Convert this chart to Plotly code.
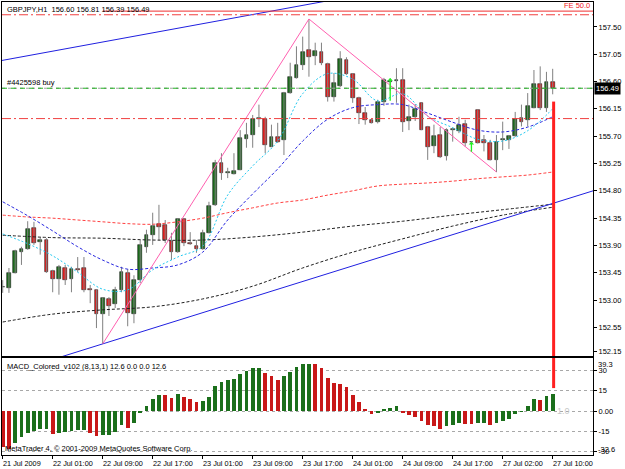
import plotly.graph_objects as go

FONT = "Liberation Sans, Arial, sans-serif"

# ---------------- data ----------------
opens = [153.21, 153.20, 153.45, 153.80, 153.84, 154.19, 153.95, 153.99, 153.48, 153.35,
         153.53, 153.35, 153.51, 153.53, 153.18, 153.16, 152.77, 153.02, 152.94, 153.16,
         153.45, 152.77, 153.33, 153.88, 154.07, 154.25, 154.24, 153.97, 153.80, 154.34,
         153.94, 153.90, 153.84, 154.11, 154.56, 155.26, 155.10, 155.08, 155.15, 155.65,
         155.72, 155.99, 155.98, 155.53, 155.68, 155.64, 156.41, 156.66, 156.87, 157.12,
         157.02, 157.08, 156.89, 156.34, 156.53, 156.96, 156.72, 156.33, 156.09, 155.97,
         155.93, 156.26, 156.60, 156.61, 156.62, 155.95, 156.02, 156.24, 155.85, 155.54,
         155.72, 155.37, 155.80, 155.79, 155.90, 155.60, 156.13, 155.63, 155.58, 155.31,
         155.64, 155.63, 155.70, 156.00, 155.96, 156.17, 156.56, 156.16, 156.60]
highs = [153.33, 153.53, 153.83, 153.88, 154.30, 154.29, 154.04, 154.02, 153.50, 153.58,
         153.58, 153.55, 153.71, 153.71, 153.25, 153.18, 153.05, 153.05, 153.22, 153.55,
         153.51, 153.41, 153.99, 154.16, 154.44, 154.57, 154.32, 154.11, 154.35, 154.35,
         154.12, 153.99, 154.16, 154.62, 155.31, 155.42, 155.18, 155.42, 155.80, 155.92,
         156.05, 156.22, 156.02, 155.89, 155.92, 156.43, 156.91, 157.18, 157.34, 157.63,
         157.24, 157.24, 156.91, 156.74, 157.10, 157.00, 156.74, 156.35, 156.18, 155.98,
         156.30, 156.66, 156.64, 156.82, 156.82, 156.22, 156.23, 156.25, 155.87, 155.89,
         155.85, 155.83, 155.84, 156.02, 155.97, 155.62, 156.14, 155.72, 155.64, 155.72,
         155.94, 155.72, 156.10, 156.22, 156.41, 156.79, 156.85, 156.76, 156.81]
lows = [153.12, 153.12, 153.44, 153.58, 153.83, 153.91, 153.75, 153.45, 153.13, 153.09,
        153.25, 153.13, 153.46, 153.13, 152.95, 152.54, 152.28, 152.74, 152.87, 153.13,
        152.57, 152.62, 153.28, 153.78, 153.91, 153.99, 153.94, 153.66, 153.78, 153.89,
        153.91, 153.78, 153.83, 154.10, 154.55, 154.98, 155.01, 155.07, 155.14, 155.51,
        155.51, 155.85, 155.42, 155.52, 155.59, 155.39, 156.40, 156.65, 156.79, 156.68,
        156.87, 156.87, 156.27, 156.27, 156.51, 156.71, 156.25, 155.90, 155.89, 155.91,
        155.91, 156.20, 156.45, 156.25, 155.77, 155.80, 155.95, 155.80, 155.31, 155.42,
        155.34, 155.30, 155.61, 155.75, 155.53, 155.50, 155.58, 155.45, 155.30, 155.11,
        155.47, 155.49, 155.69, 155.86, 155.86, 156.16, 156.13, 156.10, 156.39]
closes = [153.22, 153.45, 153.81, 153.84, 154.17, 153.94, 153.99, 153.46, 153.35, 153.55,
          153.33, 153.51, 153.50, 153.16, 153.17, 152.77, 153.04, 152.90, 153.16, 153.46,
          152.79, 153.33, 153.91, 154.07, 154.22, 154.20, 153.99, 153.80, 154.34, 153.94,
          153.93, 153.84, 154.11, 154.55, 155.26, 155.10, 155.11, 155.13, 155.67, 155.72,
          155.98, 156.00, 155.56, 155.68, 155.61, 156.41, 156.68, 156.87, 157.09, 157.01,
          157.11, 156.90, 156.35, 156.57, 156.97, 156.72, 156.33, 156.09, 155.97, 155.92,
          156.26, 156.63, 156.61, 156.62, 155.94, 156.02, 156.14, 155.81, 155.53, 155.70,
          155.36, 155.80, 155.81, 155.89, 155.59, 155.61, 155.59, 155.58, 155.31, 155.61,
          155.65, 155.70, 155.98, 155.94, 156.20, 156.56, 156.16, 156.60, 156.49]
bar_index = list(range(len(closes)))

macd = [-26.4, -28.2, -24.0, -19.5, -16.5, -15.0, -13.6, -13.2, -17.2, -16.3,
        -15.8, -14.6, -14.2, -14.0, -16.5, -18.5, -17.8, -17.5, -15.3, -10.4,
        -12.8, -9.1, -1.7, 4.0, 8.9, 12.2, 12.0, 9.6, 12.5, 10.6,
        8.6, 6.9, 7.4, 10.6, 18.3, 21.7, 22.9, 23.7, 27.4, 29.7,
        31.6, 32.1, 28.4, 25.9, 23.0, 25.9, 29.2, 32.9, 34.8, 35.0,
        34.5, 31.6, 24.7, 20.5, 20.3, 17.5, 11.9, 6.4, 1.5, -2.2,
        -1.8, 1.5, 2.5, 3.7, -1.2, -3.0, -4.2, -7.2, -10.4, -11.1,
        -13.6, -11.1, -10.4, -9.1, -9.6, -9.9, -9.1, -8.9, -10.4, -8.6,
        -7.4, -5.7, -2.2, -0.7, 3.7, 8.6, 8.5, 11.4, 12.6]

ma_bars = list(range(0, 89, 4))
ma_fast = [154.09, 153.93, 153.73, 153.46, 153.18, 153.17, 153.50, 153.71, 153.89, 154.73,
           155.21, 155.62, 156.40, 156.73, 156.64, 156.28, 156.40, 156.03, 155.84, 155.65,
           155.62, 155.79, 156.15]
ma_mid = [154.62, 154.39, 154.14, 153.88, 153.66, 153.51, 153.53, 153.58, 153.79, 154.32,
          154.75, 155.16, 155.62, 155.98, 156.17, 156.22, 156.22, 156.08, 155.93, 155.80,
          155.77, 155.85, 156.02]
ma_slow = [154.40, 154.37, 154.35, 154.32, 154.29, 154.26, 154.25, 154.29, 154.35, 154.44,
           154.52, 154.60, 154.65, 154.73, 154.80, 154.88, 154.91, 154.93, 154.96, 155.00,
           155.03, 155.06, 155.11]
ma_long_bars = list(range(0, 89, 8))
ma_long_a = [154.07, 154.03, 154.02, 153.99, 153.99, 154.04, 154.12, 154.22, 154.30, 154.40,
             154.49, 154.58]
ma_long_b = [152.64, 152.77, 152.84, 152.89, 153.02, 153.23, 153.53, 153.79, 154.01, 154.22,
             154.40, 154.53]

# trend lines / objects
channel_low_x = [9, 16, 94.45]
channel_low_y = [152.055, 152.28, 154.80]
channel_high_x = [-0.5, 52]
channel_high_y = [156.94, 157.93]
fibo_x = [16, 49, 79]
fibo_y = [152.28, 157.63, 155.11]
fe_level = 157.76
stop_levels = [157.70, 155.99]
order_price = 156.49
buy_arrow_bars = [62, 75]
buy_arrow_top = [156.66, 155.61]
buy_arrow_bottom = [156.26, 155.42]
signal_price = 156.27
signal_macd = 17.0

date_label_bars = [0, 8, 16, 24, 32, 40, 48, 56, 64, 72, 80, 88]
date_labels = ["21 Jul 2009", "22 Jul 01:00", "22 Jul 09:00", "22 Jul 17:00",
               "23 Jul 01:00", "23 Jul 09:00", "23 Jul 17:00", "24 Jul 01:00",
               "24 Jul 09:00", "24 Jul 17:00", "27 Jul 02:00", "27 Jul 10:00"]
price_ticks = [157.50, 157.05, 156.60, 156.15, 155.70, 155.25, 154.80, 154.35,
               153.90, 153.45, 153.00, 152.55, 152.15]
macd_ticks = [30, 15, 0, -15, -30]
macd_tick_text = ["30", "15", "0.00", "-15", "-30"]
macd_max, macd_min = 39.3, -32.6

title_text = "GBPJPY,H1  156.60 156.81 156.39 156.49"
macd_title = "MACD_Colored_v102 (8,13,1) 12.6 0.0 0.0 12.6"

X_RANGE = [-0.11, 94.45]
Y_RANGE = [152.08, 157.91]

UP, DN = "#1b6f1b", "#f01c1c"
MUP, MDN = "#1b6f1b", "#c81818"

fig = go.Figure()

# wicks
wx, wy = [], []
for i, h, l in zip(bar_index, highs, lows):
    wx += [i, i, None]
    wy += [l, h, None]
fig.add_trace(go.Scatter(x=wx, y=wy, mode="lines", line=dict(color="#808080", width=1),
                         hoverinfo="skip", xaxis="x", yaxis="y"))

# bodies
body_base = [min(o, c) for o, c in zip(opens, closes)]
body_h = [max(abs(c - o), 0.012) for o, c in zip(opens, closes)]
body_col = [UP if c >= o else DN for o, c in zip(opens, closes)]
fig.add_trace(go.Bar(x=bar_index, y=body_h, base=body_base, width=0.62,
                     marker=dict(color=body_col, line=dict(color="#202020", width=0.6)),
                     xaxis="x", yaxis="y"))

# moving averages
fig.add_trace(go.Scatter(x=ma_long_bars, y=ma_long_a, mode="lines", line_shape="spline",
                         line=dict(color="#202020", width=1, dash="3px,2px"), xaxis="x", yaxis="y"))
fig.add_trace(go.Scatter(x=ma_long_bars, y=ma_long_b, mode="lines", line_shape="spline",
                         line=dict(color="#202020", width=1, dash="3px,2px"), xaxis="x", yaxis="y"))
fig.add_trace(go.Scatter(x=ma_bars, y=ma_slow, mode="lines", line_shape="spline",
                         line=dict(color="#ff4040", width=1, dash="3px,2px"), xaxis="x", yaxis="y"))
fig.add_trace(go.Scatter(x=ma_bars, y=ma_mid, mode="lines", line_shape="spline",
                         line=dict(color="#2828e0", width=1, dash="3px,2px"), xaxis="x", yaxis="y"))
fig.add_trace(go.Scatter(x=ma_bars, y=ma_fast, mode="lines", line_shape="spline",
                         line=dict(color="#20c8f0", width=1, dash="2px,2px"), xaxis="x", yaxis="y"))

# trend lines
fig.add_trace(go.Scatter(x=channel_low_x, y=channel_low_y, mode="lines",
                         line=dict(color="#2020e0", width=1), xaxis="x", yaxis="y"))
fig.add_trace(go.Scatter(x=channel_high_x, y=channel_high_y, mode="lines",
                         line=dict(color="#2020e0", width=1), xaxis="x", yaxis="y"))
fig.add_trace(go.Scatter(x=fibo_x, y=fibo_y, mode="lines",
                         line=dict(color="#ff60b0", width=1), xaxis="x", yaxis="y"))
fig.add_trace(go.Scatter(x=[fibo_x[0], X_RANGE[1]], y=[fe_level, fe_level], mode="lines",
                         line=dict(color="#f03030", width=1), xaxis="x", yaxis="y"))

# MACD histogram
macd_col = [MUP if (k > 0 and v >= macd[k - 1]) else MDN for k, v in enumerate(macd)]
fig.add_trace(go.Bar(x=bar_index, y=macd, width=0.62, marker=dict(color=macd_col, line=dict(width=0)),
                     xaxis="x2", yaxis="y2"))

shapes = []
for lvl in stop_levels:
    shapes.append(dict(type="line", xref="x domain", x0=0, x1=1, yref="y", y0=lvl, y1=lvl,
                       line=dict(color="#f04040", width=1, dash="9px,3px,2px,3px")))
shapes.append(dict(type="line", xref="x domain", x0=0, x1=1, yref="y", y0=order_price, y1=order_price,
                   line=dict(color="#a0a0a0", width=1, dash="dot")))
shapes.append(dict(type="line", xref="x domain", x0=0, x1=1, yref="y", y0=order_price, y1=order_price,
                   line=dict(color="#20b020", width=1, dash="5px,4px")))
# signal vertical line (spans both panels)
shapes.append(dict(type="line", xref="x", x0=bar_index[-1] + 0.15, x1=bar_index[-1] + 0.15,
                   yref="y", y0=signal_price, y1=Y_RANGE[0], line=dict(color="#ff2020", width=3)))
shapes.append(dict(type="line", xref="x2", x0=bar_index[-1] + 0.15, x1=bar_index[-1] + 0.15,
                   yref="y2", y0=signal_macd, y1=macd_max, line=dict(color="#ff2020", width=3)))

annotations = []
tf = dict(family=FONT, size=7.5, color="black")
annotations.append(dict(xref="paper", yref="paper", x=0, y=1, xanchor="left", yanchor="top",
                        xshift=3, yshift=-1, text=title_text, showarrow=False, font=tf))
annotations.append(dict(xref="paper", yref="y", x=0, y=order_price, xanchor="left", yanchor="bottom",
                        xshift=3, yshift=-1, text="#4425598 buy", showarrow=False, font=tf))
annotations.append(dict(xref="paper", yref="y", x=1, y=fe_level, xanchor="right", yanchor="bottom",
                        xshift=-1, yshift=-1, text="FE 50.0", showarrow=False,
                        font=dict(family=FONT, size=7.5, color="#f02020")))
annotations.append(dict(xref="paper", yref="y2 domain", x=0, y=1, xanchor="left", yanchor="top",
                        xshift=3, yshift=-2, text=macd_title, showarrow=False, font=tf))
annotations.append(dict(xref="paper", yref="y2 domain", x=0, y=0, xanchor="left", yanchor="bottom",
                        xshift=1, yshift=0, text="MetaTrader 4, © 2001-2009 MetaQuotes Software Corp.",
                        showarrow=False, font=tf))
annotations.append(dict(xref="x2", yref="y2", x=bar_index[-1] + 0.4, y=0, xanchor="left", yanchor="middle",
                        text="1.0", showarrow=False, font=dict(family=FONT, size=9, color="#c8c8c8")))
# price box
annotations.append(dict(xref="paper", yref="y", x=1, y=closes[-1], xanchor="left", yanchor="middle",
                        xshift=1, text=f"{closes[-1]:.2f}", showarrow=False, bgcolor="black",
                        borderpad=1, font=dict(family=FONT, size=7.5, color="white")))
# MACD scale extremes
annotations.append(dict(xref="paper", yref="y2", x=1, y=macd_max, xanchor="left", yanchor="top",
                        xshift=3, text=f"{macd_max:.1f}", showarrow=False, font=tf))
annotations.append(dict(xref="paper", yref="y2", x=1, y=macd_min, xanchor="left", yanchor="bottom",
                        xshift=3, yshift=-1, text=f"{macd_min:.1f}", showarrow=False, font=tf))
# date labels
for b, t in zip(date_label_bars, date_labels):
    annotations.append(dict(xref="x2", yref="paper", x=b, y=0, xanchor="left", yanchor="top",
                            xshift=-2, yshift=-2, text=t, showarrow=False,
                            font=dict(family=FONT, size=7.3, color="black")))
# buy arrows
for b, t, btm in zip(buy_arrow_bars, buy_arrow_top, buy_arrow_bottom):
    annotations.append(dict(xref="x", yref="y", axref="x", ayref="y", x=b, y=t, ax=b, ay=btm,
                            showarrow=True, arrowhead=1, arrowsize=0.7, arrowwidth=1.3,
                            arrowcolor="#20f020", text=""))

axis_common = dict(showline=True, linecolor="black", linewidth=1, mirror=True,
                   showgrid=False, zeroline=False)

fig.update_layout(
    width=625, height=469,
    margin=dict(l=2, r=32, t=2, b=14),
    paper_bgcolor="white", plot_bgcolor="white",
    showlegend=False, barmode="overlay", bargap=0,
    font=dict(family=FONT, size=7.5, color="black"),
    xaxis=dict(domain=[0, 1], anchor="y", range=X_RANGE, showticklabels=False, ticks="", **axis_common),
    xaxis2=dict(domain=[0, 1], anchor="y2", range=X_RANGE, matches="x", tickvals=date_label_bars,
                ticks="outside", ticklen=3, tickcolor="black", showticklabels=False, **axis_common),
    yaxis=dict(domain=[0.2185, 1], anchor="x", side="right", range=Y_RANGE,
               tickvals=price_ticks, ticktext=[f"{v:.2f}" for v in price_ticks],
               ticks="outside", ticklen=3, tickcolor="black",
               tickfont=dict(family=FONT, size=7.5, color="black"), **axis_common),
    yaxis2=dict(domain=[0, 0.2141], anchor="x2", side="right", range=[macd_min, macd_max],
                tickvals=macd_ticks, ticktext=macd_tick_text,
                ticks="outside", ticklen=3, tickcolor="black",
                tickfont=dict(family=FONT, size=7.5, color="black"),
                showline=True, linecolor="black", linewidth=1, mirror=True, zeroline=False,
                showgrid=True, gridcolor="#a8a8a8", griddash="dot", gridwidth=1),
    shapes=shapes,
    annotations=annotations,
)

fig.write_html("out.html")
